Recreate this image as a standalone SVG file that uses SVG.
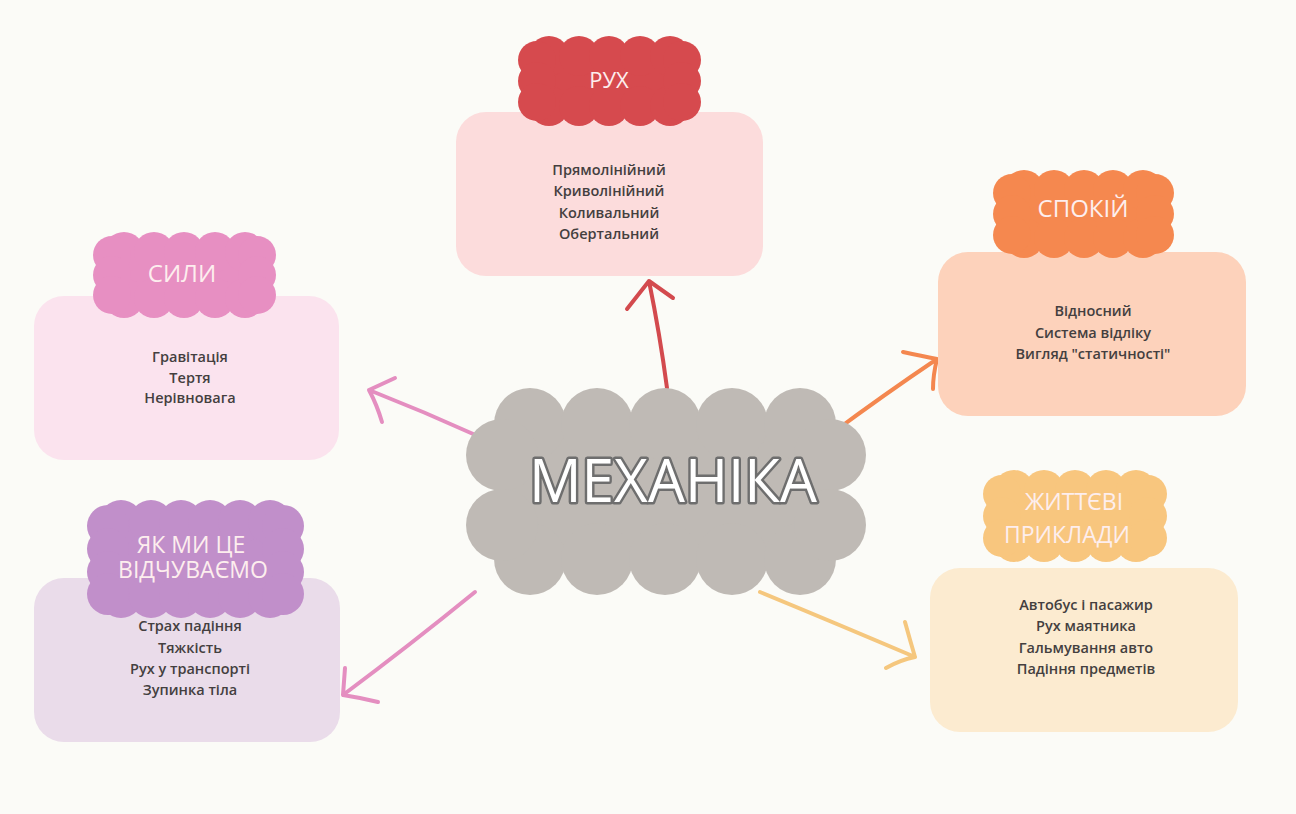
<svg xmlns="http://www.w3.org/2000/svg" width="1296" height="814" viewBox="0 0 1296 814">
<style>
.hd{font-family:"Open Sans","Noto Sans","DejaVu Sans",sans-serif;text-anchor:middle;fill:#fdeeee;}
.bd{font-family:"Open Sans","Noto Sans","DejaVu Sans",sans-serif;font-size:14.5px;font-weight:600;text-anchor:middle;fill:#443f3f;}
.cn{fill:none;stroke-width:4;stroke-linecap:round;stroke-linejoin:round;}
.title{font-family:"Open Sans","Noto Sans","DejaVu Sans",sans-serif;font-size:60px;text-anchor:middle;fill:#ffffff;stroke:#6e6e6e;stroke-width:5;paint-order:stroke;stroke-linejoin:round;}
</style>
<rect x="0" y="0" width="1296" height="814" fill="#fbfbf7"/>

<g id="connectors">
  <path class="cn" stroke="#d34a4e" d="M667 388 Q660 335 649 281 M627 309 L649 281 L673 298"/>
  <path class="cn" stroke="#f4874f" d="M831 434 Q885 394 937 359 M903 352 Q922 356 937 359 Q933 375 933 389"/>
  <path class="cn" stroke="#e48ec0" d="M480 437 Q425 412 369 390 M395 378 L369 390 Q377 405 382 422"/>
  <path class="cn" stroke="#e48ec0" d="M475 592 Q410 645 343 695 M345 668 Q344 682 343 695 Q362 698 378 702"/>
  <path class="cn" stroke="#f5c77e" d="M760 592 Q840 625 915 657 M905 622 Q910 640 915 657 Q900 660 886 668"/>
</g>

<g id="node-ruh">
  <rect x="456" y="112" width="307" height="164" rx="30" fill="#fcdcdc"/>
  <g fill="#d64a4e">
    <rect x="537" y="56" width="145" height="50"/>
    <circle cx="549" cy="56" r="20"/><circle cx="579" cy="56" r="20"/><circle cx="609" cy="56" r="20"/><circle cx="640" cy="56" r="20"/><circle cx="670" cy="56" r="20"/>
    <circle cx="549" cy="106" r="20"/><circle cx="579" cy="106" r="20"/><circle cx="609" cy="106" r="20"/><circle cx="640" cy="106" r="20"/><circle cx="670" cy="106" r="20"/>
    <circle cx="537" cy="60" r="19"/><circle cx="537" cy="81" r="19"/><circle cx="537" cy="102" r="19"/>
    <circle cx="682" cy="60" r="19"/><circle cx="682" cy="81" r="19"/><circle cx="682" cy="102" r="19"/>
  </g>
  <text class="hd" x="609" y="88" font-size="22">РУХ</text>
  <text class="bd" x="609" y="175">Прямолінійний</text>
  <text class="bd" x="609" y="196">Криволінійний</text>
  <text class="bd" x="609" y="218">Коливальний</text>
  <text class="bd" x="609" y="239">Обертальний</text>
</g>

<g id="node-spokii">
  <rect x="938" y="252" width="308" height="164" rx="30" fill="#fdd2bb"/>
  <g fill="#f5884f">
    <rect x="1012" y="190" width="143" height="48"/>
    <circle cx="1024" cy="190" r="20"/><circle cx="1054" cy="190" r="20"/><circle cx="1084" cy="190" r="20"/><circle cx="1113" cy="190" r="20"/><circle cx="1143" cy="190" r="20"/>
    <circle cx="1024" cy="238" r="20"/><circle cx="1054" cy="238" r="20"/><circle cx="1084" cy="238" r="20"/><circle cx="1113" cy="238" r="20"/><circle cx="1143" cy="238" r="20"/>
    <circle cx="1012" cy="193" r="19"/><circle cx="1012" cy="214" r="19"/><circle cx="1012" cy="235" r="19"/>
    <circle cx="1155" cy="193" r="19"/><circle cx="1155" cy="214" r="19"/><circle cx="1155" cy="235" r="19"/>
  </g>
  <text class="hd" x="1083" y="217" font-size="24">СПОКІЙ</text>
  <text class="bd" x="1093" y="316">Відносний</text>
  <text class="bd" x="1093" y="338">Система відліку</text>
  <text class="bd" x="1093" y="359">Вигляд "статичності"</text>
</g>

<g id="node-syly">
  <rect x="34" y="296" width="305" height="164" rx="30" fill="#fbe3ee"/>
  <g fill="#e78fc2">
    <rect x="112" y="252" width="145" height="46"/>
    <circle cx="124" cy="252" r="20"/><circle cx="154" cy="252" r="20"/><circle cx="184" cy="252" r="20"/><circle cx="215" cy="252" r="20"/><circle cx="245" cy="252" r="20"/>
    <circle cx="124" cy="298" r="20"/><circle cx="154" cy="298" r="20"/><circle cx="184" cy="298" r="20"/><circle cx="215" cy="298" r="20"/><circle cx="245" cy="298" r="20"/>
    <circle cx="112" cy="255" r="19"/><circle cx="112" cy="275" r="19"/><circle cx="112" cy="295" r="19"/>
    <circle cx="257" cy="255" r="19"/><circle cx="257" cy="275" r="19"/><circle cx="257" cy="295" r="19"/>
  </g>
  <text class="hd" x="182" y="282" font-size="24">СИЛИ</text>
  <text class="bd" x="190" y="362">Гравітація</text>
  <text class="bd" x="190" y="383">Тертя</text>
  <text class="bd" x="190" y="403">Нерівновага</text>
</g>

<g id="node-vidchuvaemo">
  <rect x="34" y="578" width="306" height="164" rx="30" fill="#eadcea"/>
  <g fill="#c18fca">
    <rect x="108" y="522" width="175" height="74"/>
    <circle cx="121" cy="522" r="22"/><circle cx="151" cy="522" r="22"/><circle cx="181" cy="522" r="22"/><circle cx="210" cy="522" r="22"/><circle cx="240" cy="522" r="22"/><circle cx="270" cy="522" r="22"/>
    <circle cx="121" cy="596" r="22"/><circle cx="151" cy="596" r="22"/><circle cx="181" cy="596" r="22"/><circle cx="210" cy="596" r="22"/><circle cx="240" cy="596" r="22"/><circle cx="270" cy="596" r="22"/>
    <circle cx="108" cy="526" r="21"/><circle cx="108" cy="549" r="21"/><circle cx="108" cy="572" r="21"/><circle cx="108" cy="594" r="21"/>
    <circle cx="283" cy="526" r="21"/><circle cx="283" cy="549" r="21"/><circle cx="283" cy="572" r="21"/><circle cx="283" cy="594" r="21"/>
  </g>
  <text class="hd" x="192" y="578" font-size="23"><tspan x="191" y="553">ЯК МИ ЦЕ</tspan><tspan x="193" y="578">ВІДЧУВАЄМО</tspan></text>
  <text class="bd" x="190" y="631">Страх падіння</text>
  <text class="bd" x="190" y="653">Тяжкість</text>
  <text class="bd" x="190" y="674">Рух у транспорті</text>
  <text class="bd" x="190" y="695">Зупинка тіла</text>
</g>

<g id="node-pryklady">
  <rect x="930" y="568" width="308" height="164" rx="30" fill="#fcebd0"/>
  <g fill="#f8c67e">
    <rect x="1002" y="490" width="146" height="52"/>
    <circle cx="1014" cy="490" r="20"/><circle cx="1044" cy="490" r="20"/><circle cx="1075" cy="490" r="20"/><circle cx="1106" cy="490" r="20"/><circle cx="1136" cy="490" r="20"/>
    <circle cx="1014" cy="542" r="20"/><circle cx="1044" cy="542" r="20"/><circle cx="1075" cy="542" r="20"/><circle cx="1106" cy="542" r="20"/><circle cx="1136" cy="542" r="20"/>
    <circle cx="1002" cy="494" r="19"/><circle cx="1002" cy="516" r="19"/><circle cx="1002" cy="538" r="19"/>
    <circle cx="1148" cy="494" r="19"/><circle cx="1148" cy="516" r="19"/><circle cx="1148" cy="538" r="19"/>
  </g>
  <text class="hd" x="1074" y="510" font-size="23">ЖИТТЄВІ</text>
  <text class="hd" x="1067" y="543" font-size="23">ПРИКЛАДИ</text>
  <text class="bd" x="1086" y="610">Автобус і пасажир</text>
  <text class="bd" x="1086" y="631">Рух маятника</text>
  <text class="bd" x="1086" y="653">Гальмування авто</text>
  <text class="bd" x="1086" y="674">Падіння предметів</text>
</g>

<g id="node-mekhanika">
  <g fill="#bfbab5">
    <rect x="502" y="424" width="328" height="135"/>
    <circle cx="530" cy="424" r="36"/><circle cx="597" cy="424" r="36"/><circle cx="665" cy="424" r="36"/><circle cx="732" cy="424" r="36"/><circle cx="800" cy="424" r="36"/>
    <circle cx="530" cy="559" r="36"/><circle cx="597" cy="559" r="36"/><circle cx="665" cy="559" r="36"/><circle cx="732" cy="559" r="36"/><circle cx="800" cy="559" r="36"/>
    <circle cx="502" cy="455" r="36"/><circle cx="502" cy="525" r="36"/>
    <circle cx="830" cy="455" r="36"/><circle cx="830" cy="525" r="36"/>
  </g>
  <text class="title" x="673" y="502" textLength="288" lengthAdjust="spacingAndGlyphs">МЕХАНІКА</text>
</g>
</svg>
